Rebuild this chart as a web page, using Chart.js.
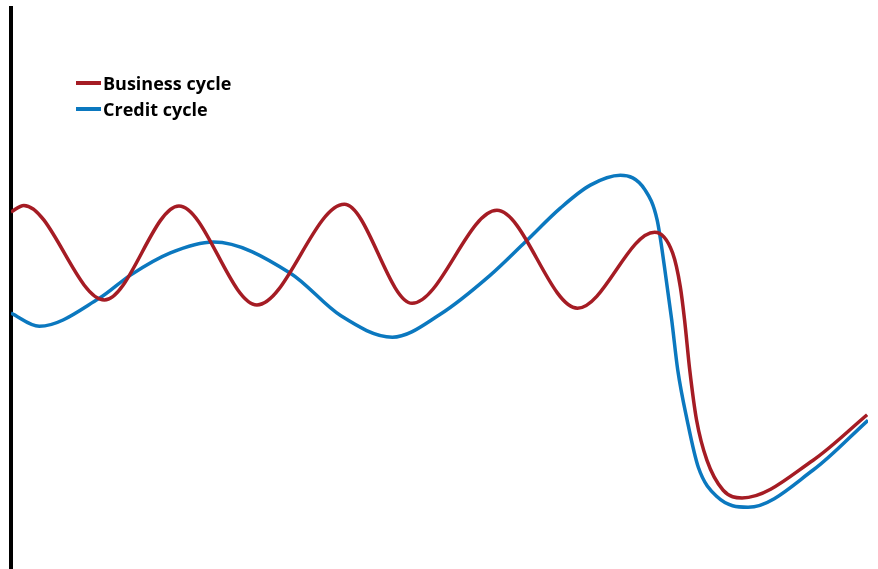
<!DOCTYPE html>
<html>
<head>
<meta charset="utf-8">
<script src="https://cdn.jsdelivr.net/npm/chart.js@4/dist/chart.umd.min.js"></script>
<style>
  html, body { margin: 0; padding: 0; background: #fff; }
  #wrap { position: relative; width: 878px; height: 569px; }
  #legend { position: absolute; left: 76px; top: 70px; font-family: "Open Sans", sans-serif; font-weight: 700; font-size: 18px; color: #000; }
  .item { display: flex; align-items: center; height: 26px; }
  .swatch { width: 25px; height: 3.5px; margin-right: 2px; }
</style>
</head>
<body>
<div id="wrap">
  <canvas id="cycleChart" width="878" height="569"></canvas>
  <div id="legend"></div>
</div>
<script>
// series names and colours
const seriesNames = ["Business cycle", "Credit cycle"];
const seriesColors = ["#a51c24", "#0b78bf"];

// business cycle (time, level)
const businessX = [0, 1.5, 10.9, 19.6, 28.7, 38.9, 46.8, 56.7, 66.1, 75.1, 77.2, 78.1, 78.6, 79.2, 80.0, 81.2, 83.1, 85.3, 93.6, 99.9];
const businessY = [65.3, 66.5, 49.2, 66.4, 48.3, 66.7, 48.6, 65.6, 47.7, 61.6, 57.8, 51.6, 45.5, 36.4, 27.2, 19.9, 14.4, 13.0, 19.9, 28.2];

// credit cycle (time, level)
const creditX = [0, 3.3, 10.3, 13.9, 18.6, 23.6, 32.6, 38.5, 44.5, 50.0, 55.9, 60.0, 64.1, 67.6, 71.1, 74.0, 75.4, 76.3, 77.1, 77.8, 78.9, 80.2, 82.4, 86.0, 93.6, 100];
const creditY = [46.8, 44.4, 49.5, 53.7, 57.8, 59.8, 54.1, 46.3, 42.4, 46.5, 53.7, 59.8, 66.0, 70.2, 72.0, 69.3, 63.8, 54.7, 45.5, 36.4, 27.2, 18.6, 13.2, 11.3, 18.1, 27.2];

function toPoints(xs, ys) {
  return xs.map((x, i) => ({ x: x, y: ys[i] }));
}

const ctx = document.getElementById("cycleChart");

new Chart(ctx, {
  type: 'line',
  data: {
    datasets: [
      {
        label: seriesNames[0],
        data: toPoints(businessX, businessY),
        borderColor: seriesColors[0],
        borderWidth: 3.5,
        pointRadius: 0,
        cubicInterpolationMode: 'monotone',
        fill: false
      },
      {
        label: seriesNames[1],
        data: toPoints(creditX, creditY),
        borderColor: seriesColors[1],
        borderWidth: 3.5,
        pointRadius: 0,
        cubicInterpolationMode: 'monotone',
        fill: false
      }
    ]
  },
  options: {
    responsive: false,
    animation: false,
    layout: { padding: { top: 8, right: 10, bottom: 0, left: 0 } },
    plugins: {
      legend: { display: false },
      tooltip: { enabled: false }
    },
    scales: {
      x: {
        type: 'linear',
        min: 0,
        max: 100,
        display: false
      },
      y: {
        min: 0,
        max: 102.6,
        ticks: { display: false },
        grid: { display: false, drawTicks: false },
        border: { display: true, color: '#000', width: 4 },
        afterFit: (scale) => { scale.width = 11; }
      }
    }
  }
});

// legend
const legendDiv = document.getElementById("legend");
legendDiv.innerHTML = seriesNames.map((name, i) => `
  <div class="item"><span class="swatch" style="background:${seriesColors[i]}"></span>${name}</div>
`).join('');
</script>
</body>
</html>
